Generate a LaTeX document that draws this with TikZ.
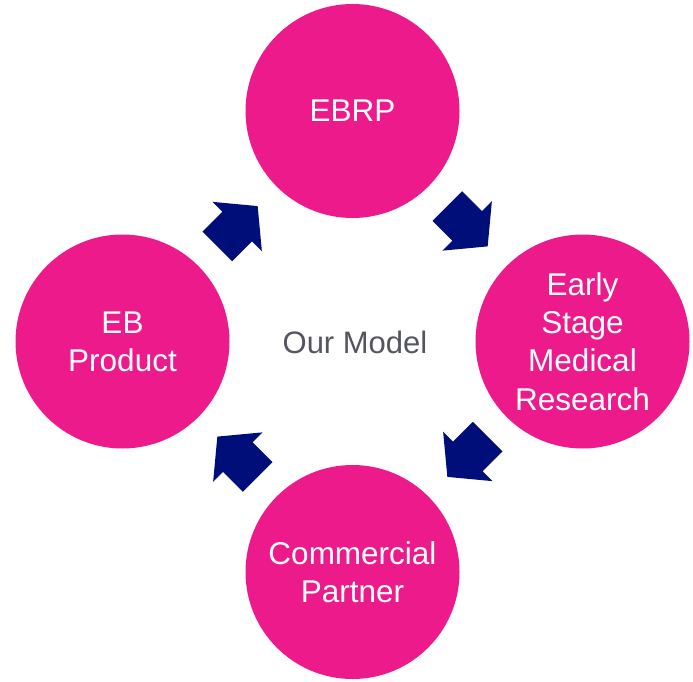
\documentclass[tikz,border=0pt]{standalone}
\usepackage{fontspec}
\setmainfont{Liberation Sans}
\usetikzlibrary{calc}
\definecolor{hotpink}{HTML}{EC1A8A}
\definecolor{navyblue}{HTML}{000E7A}
\definecolor{modelgray}{HTML}{55555F}
\tikzset{
  stage/.style={circle, fill=hotpink, draw=none, minimum size=214pt, inner sep=0pt,
    text=white, align=center, font=\fontsize{31.5}{38.3}\selectfont},
  centerlabel/.style={text=modelgray, font=\fontsize{31}{37}\selectfont, inner sep=0pt},
  blockarrow/.pic={\fill[navyblue] (-28.5,-21) -- (-0.5,-21) -- (-0.5,-35) -- (28.5,0) -- (-0.5,35) -- (-0.5,21) -- (-28.5,21) -- cycle;}
}
\begin{document}
\begin{tikzpicture}[x=1pt,y=-1pt]
\useasboundingbox (0,0) rectangle (693,682);
\node[stage] (ebrp) at (352.5,111) {EBRP};
\node[stage] (early) at (582.5,341.5) {Early\\Stage\\Medical\\Research};
\node[stage] (partner) at (352.5,572) {Commercial\\Partner};
\node[stage] (product) at (122.5,341.5) {EB\\Product};
\node[centerlabel] (model) at (355,342.5) {Our Model};
\coordinate (a1) at ($(product)!0.5!(ebrp)$);
\coordinate (a2) at ($(ebrp)!0.5!(early)$);
\coordinate (a3) at ($(early)!0.5!(partner)$);
\coordinate (a4) at ($(partner)!0.5!(product)$);
\pic[rotate=45] at (a1) {blockarrow};
\pic[rotate=-45] at (a2) {blockarrow};
\pic[rotate=-135] at (a3) {blockarrow};
\pic[rotate=135] at (a4) {blockarrow};
\end{tikzpicture}
\end{document}
